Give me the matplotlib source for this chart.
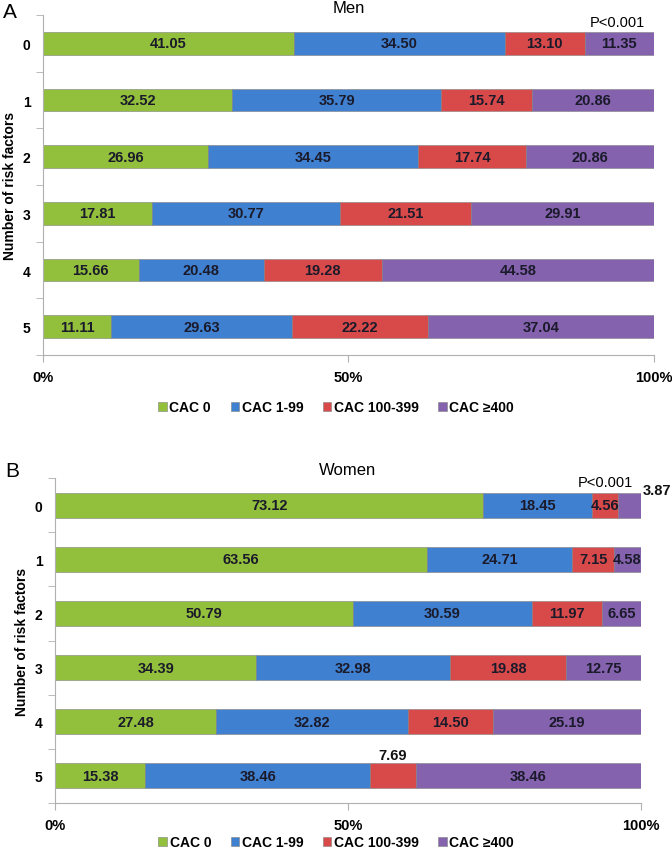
import matplotlib.pyplot as plt
import numpy as np

plt.rcParams['font.family'] = ['Liberation Sans', 'DejaVu Sans']

risk = ['0', '1', '2', '3', '4', '5']
series = ['CAC 0', 'CAC 1-99', 'CAC 100-399', 'CAC \u2265400']
colors = ['#93c03c', '#4080d0', '#d84a4a', '#8462ad']

men = np.array([
    [41.05, 34.50, 13.10, 11.35],
    [32.52, 35.79, 15.74, 20.86],
    [26.96, 34.45, 17.74, 20.86],
    [17.81, 30.77, 21.51, 29.91],
    [15.66, 20.48, 19.28, 44.58],
    [11.11, 29.63, 22.22, 37.04],
])
women = np.array([
    [73.12, 18.45, 4.56, 3.87],
    [63.56, 24.71, 7.15, 4.58],
    [50.79, 30.59, 11.97, 6.65],
    [34.39, 32.98, 19.88, 12.75],
    [27.48, 32.82, 14.50, 25.19],
    [15.38, 38.46, 7.69, 38.46],
])


def draw_panel(ax, data, title, bar_h, leg_y, title_pad, outside):
    """stacked horizontal bars, one row per number of risk factors"""
    y = np.arange(len(risk))
    left = np.zeros(len(risk))
    totals = data.sum(axis=1)
    for j, name in enumerate(series):
        widths = data[:, j] / totals * 100
        ax.barh(y, widths, left=left, height=bar_h, color=colors[j],
                edgecolor='#808080', linewidth=0.4, label=name)
        for i in range(len(risk)):
            txt = '%.2f' % data[i, j]
            if (i, j) in outside:
                kind = outside[(i, j)]
                if kind == 'right':
                    ax.text(left[i] + widths[i] + 0.3, y[i] - bar_h / 2 - 0.05, txt,
                            ha='left', va='center', fontsize=10.5, fontweight='bold', color='#111111')
                else:
                    ax.text(left[i] + widths[i] / 2, y[i] - bar_h / 2 - 0.02, txt,
                            ha='center', va='bottom', fontsize=10.5, fontweight='bold', color='#111111')
            else:
                ax.text(left[i] + widths[i] / 2, y[i], txt, ha='center', va='center',
                        fontsize=10.5, fontweight='bold', color='#1a1a2a')
        left += widths
    ax.set_xlim(0, 100)
    ax.set_ylim(len(risk) - 0.5, -0.5)
    ax.set_yticks(y)
    ax.set_yticklabels(risk, fontweight='bold', fontsize=10)
    ax.set_yticks(np.arange(-0.5, len(risk), 1), minor=True)
    ax.tick_params(axis='y', which='major', length=0, pad=9)
    ax.tick_params(axis='y', which='minor', length=5, color='#b0b0b0')
    ax.set_xticks([0, 50, 100])
    ax.set_xticklabels(['0%', '50%', '100%'], fontweight='bold', fontsize=10.5)
    ax.tick_params(axis='x', length=5, color='#b0b0b0', pad=6)
    for s in ['top', 'right']:
        ax.spines[s].set_visible(False)
    for s in ['left', 'bottom']:
        ax.spines[s].set_color('#b0b0b0')
    ax.set_ylabel('Number of risk factors', fontweight='bold', fontsize=10, labelpad=4)
    ax.set_title(title, fontsize=12, pad=title_pad)
    ax.text(94, -bar_h / 2 - 0.06, 'P<0.001', ha='center', va='bottom', fontsize=10.5)
    ax.legend(loc='center', bbox_to_anchor=(0.48, leg_y), ncol=4, frameon=False,
              handlelength=0.6, handleheight=0.6, handletextpad=0.2, columnspacing=1.4,
              prop={'weight': 'bold', 'size': 10})


fig = plt.figure(figsize=(6.72, 8.53), dpi=100)
ax1 = fig.add_axes([0.064, 0.5826, 0.909, 0.3986])
ax2 = fig.add_axes([0.0818, 0.0574, 0.872, 0.381])

draw_panel(ax1, men, 'Men', 0.40, -0.153, -1, {})
draw_panel(ax2, women, 'Women', 0.46, -0.12, 3, {(0, 3): 'right', (5, 2): 'above'})

fig.text(10 / 672, 1 - 12 / 853, 'A', fontsize=15, ha='center', va='center')
fig.text(12 / 672, 1 - 472 / 853, 'B', fontsize=15, ha='center', va='center')

fig.savefig('out.png', dpi=100)
